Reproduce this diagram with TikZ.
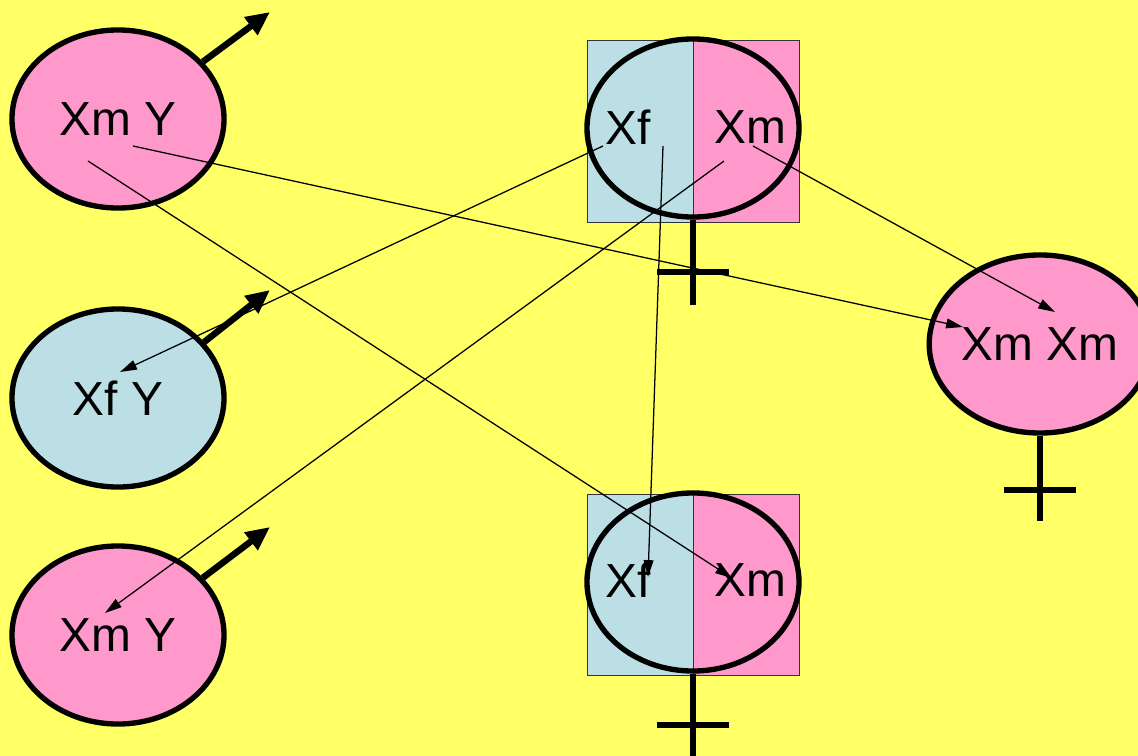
\documentclass[tikz,border=0pt]{standalone}
\usepackage{fontspec}
\setmainfont{Liberation Sans}
\usetikzlibrary{shapes.geometric,arrows.meta}
\definecolor{bgyellow}{HTML}{FFFF66}
\definecolor{xmpink}{HTML}{FF99CC}
\definecolor{xfblue}{HTML}{BBDFE5}

\begin{document}
\begin{tikzpicture}[x=0.025cm,y=0.025cm,
    gamete/.style={ellipse,draw=black,line width=3.8pt,inner sep=0pt,
        minimum width=5.3cm,minimum height=4.45cm,font=\fontsize{34}{36}\selectfont},
    allele/.style={inner sep=0pt,font=\fontsize{34}{36}\selectfont},
    halfbox/.style={draw=black!80,line width=0.7pt},
    sexsign/.style={line width=4.2pt},
    malesign/.style={line width=4.6pt,-{Triangle[length=17pt,width=15pt]}},
    transfer/.style={line width=0.9pt,-{Triangle[length=12pt,width=7pt]}}]
    \clip (0,0) rectangle (1138,-756);
    \fill [bgyellow] (0,0) rectangle (1138,-756);
    % father gametes
    \node [gamete,fill=xmpink] (xmyA) at (118,-119) {Xm Y};
    \node [gamete,fill=xfblue] (xfyB) at (118,-398) {Xf Y};
    \node [gamete,fill=xmpink] (xmyC) at (118,-635) {Xm Y};
    \coordinate (tipA) at (270,-12);
    \coordinate (tipB) at (270,-290);
    \coordinate (tipC) at (270,-527);
    \draw [malesign] (xmyA.34) -- (tipA);
    \draw [malesign] (xfyB.33) -- (tipB);
    \draw [malesign] (xmyC.34) -- (tipC);
    % mother, top
    \fill [xfblue] (587,-40) rectangle (693,-222);
    \fill [xmpink] (693,-40) rectangle (799,-222);
    \draw [halfbox] (587,-40) rectangle (799,-222);
    \draw [halfbox] (693,-40) -- (693,-222);
    \node [gamete] (momA) at (693,-128) {};
    \node [allele] (xfA) at (628,-127) {Xf};
    \node [allele] (xmA) at (750,-127) {Xm};
    \draw [sexsign] (momA.south) -- ++(0,-85);
    \draw [sexsign] ([shift={(-36,-52)}]momA.south) -- ++(72,0);
    % mother, bottom
    \fill [xfblue] (587,-494) rectangle (693,-675);
    \fill [xmpink] (693,-494) rectangle (799,-675);
    \draw [halfbox] (587,-494) rectangle (799,-675);
    \draw [halfbox] (693,-494) -- (693,-675);
    \node [gamete] (momB) at (693,-582) {};
    \node [allele] (xfB) at (628,-580) {Xf};
    \node [allele] (xmB) at (750,-580) {Xm};
    \draw [sexsign] (momB.south) -- ++(0,-90);
    \draw [sexsign] ([shift={(-36,-51)}]momB.south) -- ++(72,0);
    % daughter
    \node [gamete,fill=xmpink,minimum width=5.35cm] (xmxm) at (1040,-344) {Xm Xm};
    \draw [sexsign] (xmxm.south) -- ++(0,-85);
    \draw [sexsign] ([shift={(-36,-54)}]xmxm.south) -- ++(72,0);
    % chromosome paths
    \draw [transfer] ([shift={(15,-27)}]xmyA.center) -- ([shift={(-77,17)}]xmxm.center);
    \draw [transfer] ([shift={(-30,-42)}]xmyA.center) -- ([shift={(39,4)}]momB.center);
    \draw [transfer] ([shift={(-90,-18)}]momA.center) -- ([shift={(2,26)}]xfyB.center);
    \draw [transfer] ([shift={(31,-33)}]momA.center) -- ([shift={(-13,22)}]xmyC.center);
    \draw [transfer] ([shift={(-30,-18)}]momA.center) -- ([shift={(-45,5)}]momB.center);
    \draw [transfer] ([shift={(60,-18)}]momA.center) -- ([shift={(15,32)}]xmxm.center);
\end{tikzpicture}
\end{document}
